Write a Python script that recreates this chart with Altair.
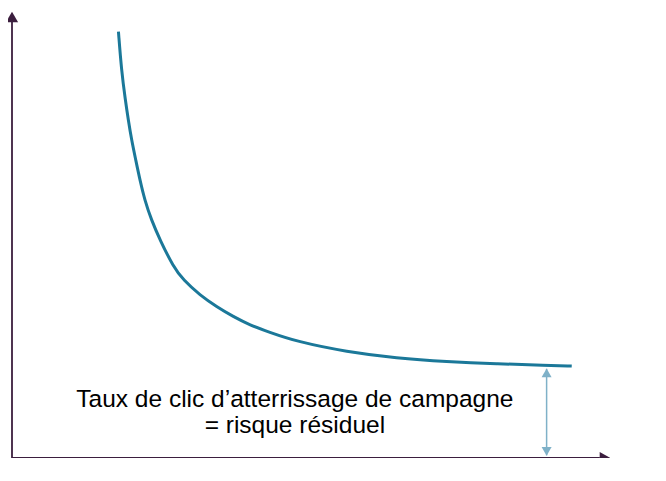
import altair as alt
import pandas as pd

# Curve (residual risk decreasing with effort), abstract units 0..100
curve_x = [17.8, 18.3, 18.95, 19.45, 20.0, 20.7, 21.4, 22.2, 23.3, 24.75, 26.97, 28.65,
           31.44, 34.23, 37.0, 39.8, 42.86, 47.6, 56.0, 64.3, 72.7, 81.0, 89.4, 93.6]
curve_y = [95.6, 87.0, 80.3, 75.8, 71.3, 66.8, 62.3, 57.8, 53.4, 48.9, 42.9, 39.9,
           36.5, 33.9, 31.7, 29.8, 28.3, 26.1, 23.8, 22.4, 21.6, 21.1, 20.8, 20.6]

# Residual risk marker position
resid_x = [89.4]
resid_top = [20.0]
resid_bottom = [0.6]

label_lines = ["Taux de clic d\u2019atterrissage de campagne", "= risque r\u00e9siduel"]
label_x = [47.3, 47.3]
label_y = [11.5, 5.6]

AXIS_COL = "#3b1e3e"
CURVE_COL = "#1b7899"
ARROW_COL = "#7fb1c8"

xs = alt.Scale(domain=[0, 100], nice=False, zero=False)
ys = alt.Scale(domain=[0, 100], nice=False, zero=False)

curve_df = pd.DataFrame({"x": curve_x, "y": curve_y, "o": list(range(len(curve_x)))})
curve = alt.Chart(curve_df).mark_line(color=CURVE_COL, strokeWidth=3, interpolate="basis").encode(
    x=alt.X("x:Q", scale=xs, axis=None),
    y=alt.Y("y:Q", scale=ys, axis=None),
    order="o:Q",
)

# axes
axes_df = pd.DataFrame({"x": [0, 0], "y": [0, 0], "x2": [98.3, 0], "y2": [0, 97.8]})
axes = alt.Chart(axes_df).mark_rule(color=AXIS_COL, strokeWidth=1.8).encode(
    x=alt.X("x:Q", scale=xs, axis=None),
    y=alt.Y("y:Q", scale=ys, axis=None),
    x2="x2:Q",
    y2="y2:Q",
)
head_up = alt.Chart(pd.DataFrame({"x": [0], "y": [100]})).mark_point(
    shape="triangle-up", filled=True, size=150, color=AXIS_COL, opacity=1, yOffset=5
).encode(x=alt.X("x:Q", scale=xs, axis=None), y=alt.Y("y:Q", scale=ys, axis=None))
head_right = alt.Chart(pd.DataFrame({"x": [100], "y": [0]})).mark_point(
    shape="triangle-right", filled=True, size=150, color=AXIS_COL, opacity=1, xOffset=-5
).encode(x=alt.X("x:Q", scale=xs, axis=None), y=alt.Y("y:Q", scale=ys, axis=None))

# residual arrow
res_df = pd.DataFrame({"x": resid_x, "y": resid_top, "y2": resid_bottom})
res_line = alt.Chart(res_df).mark_rule(color=ARROW_COL, strokeWidth=1.5).encode(
    x=alt.X("x:Q", scale=xs, axis=None),
    y=alt.Y("y:Q", scale=ys, axis=None),
    y2="y2:Q",
)
res_up = alt.Chart(res_df).mark_point(
    shape="triangle-up", filled=True, size=100, color=ARROW_COL, opacity=1, yOffset=4
).encode(x=alt.X("x:Q", scale=xs, axis=None), y=alt.Y("y:Q", scale=ys, axis=None))
res_down = alt.Chart(res_df).mark_point(
    shape="triangle-down", filled=True, size=100, color=ARROW_COL, opacity=1, yOffset=-4
).encode(x=alt.X("x:Q", scale=xs, axis=None), y=alt.Y("y2:Q", scale=ys, axis=None))

text_df = pd.DataFrame({"x": label_x, "y": label_y, "t": label_lines})
text = alt.Chart(text_df).mark_text(
    font="Liberation Sans", fontSize=24.5, color="#000000", align="center", baseline="alphabetic"
).encode(x=alt.X("x:Q", scale=xs, axis=None), y=alt.Y("y:Q", scale=ys, axis=None), text="t:N")

chart = alt.layer(axes, head_up, head_right, curve, res_line, res_up, res_down, text).properties(
    width=598,
    height=446,
    padding={"left": 4, "top": 4, "right": 0, "bottom": 0},
    autosize=alt.AutoSizeParams(type="none"),
    background="white",
).configure_view(stroke=None)

chart.save("out.html", embed_options={"renderer": "svg", "actions": False})
